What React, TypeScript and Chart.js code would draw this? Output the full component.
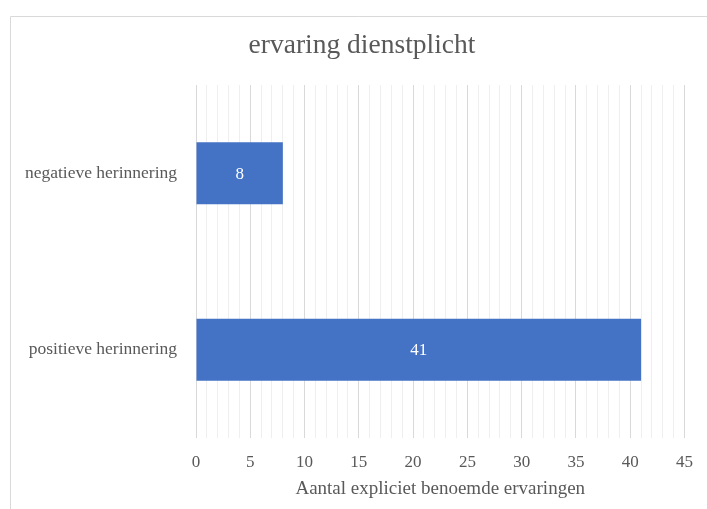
import React, { useEffect, useRef } from "react";
import { Chart, registerables } from "chart.js";

Chart.register(...registerables);

const chartTitle = "ervaring dienstplicht";
const axisTitle = "Aantal expliciet benoemde ervaringen";
const categories = ["negatieve herinnering", "positieve herinnering"];
const values = [8, 41];
const xMin = 0;
const xMax = 45;
const majorStep = 5;
const minorStep = 1;

const FONT = "'Liberation Serif', 'Times New Roman', serif";
const TEXT = "#595959";
const BAR = "#4472C4";

const framePlugin = {
  id: "frame",
  beforeDraw(chart: any) {
    const ctx = chart.ctx;
    ctx.save();
    ctx.fillStyle = "#ffffff";
    ctx.fillRect(0, 0, chart.width, chart.height);
    ctx.strokeStyle = "#d9d9d9";
    ctx.lineWidth = 1;
    ctx.beginPath();
    ctx.moveTo(10.5, chart.height);
    ctx.lineTo(10.5, 16.5);
    ctx.lineTo(chart.width, 16.5);
    ctx.stroke();
    // chart title
    ctx.fillStyle = TEXT;
    ctx.font = `27.5px ${FONT}`;
    ctx.textAlign = "center";
    ctx.textBaseline = "middle";
    ctx.fillText(chartTitle, 362, 46);
    ctx.restore();
  },
};

const barLabelPlugin = {
  id: "barLabels",
  afterDatasetsDraw(chart: any) {
    const ctx = chart.ctx;
    const meta = chart.getDatasetMeta(0);
    const data = chart.data.datasets[0].data;
    ctx.save();
    ctx.fillStyle = "#ffffff";
    ctx.font = `17px ${FONT}`;
    ctx.textAlign = "center";
    ctx.textBaseline = "middle";
    meta.data.forEach((bar: any, i: number) => {
      const { x, y, base } = bar.getProps(["x", "y", "base"], true);
      ctx.fillText(String(data[i]), (x + base) / 2, y + 1);
    });
    ctx.restore();
  },
};

export default function App() {
  const ref = useRef<HTMLCanvasElement | null>(null);
  useEffect(() => {
    if (!ref.current) return;
    const chart = new Chart(ref.current, {
      type: "bar",
      data: {
        labels: categories,
        datasets: [
          {
            data: values,
            backgroundColor: BAR,
            borderWidth: 0,
            categoryPercentage: 1,
            barPercentage: 0.35,
          },
        ],
      },
      options: {
        indexAxis: "y",
        animation: false,
        responsive: false,
        devicePixelRatio: 1,
        layout: { padding: { left: 0, right: 22, top: 85, bottom: 0 } },
        plugins: {
          legend: { display: false },
          tooltip: { enabled: false },
          title: { display: false },
        },
        scales: {
          x: {
            type: "linear",
            min: xMin,
            max: xMax,
            border: { display: false },
            grid: {
              drawTicks: false,
              lineWidth: 1,
              color: (c: any) =>
                c.tick && c.tick.value % majorStep === 0 ? "#d9d9d9" : "#efefef",
            },
            ticks: {
              stepSize: minorStep,
              autoSkip: false,
              maxRotation: 0,
              padding: 14,
              color: TEXT,
              font: { family: FONT, size: 17 },
              callback: (v: any) => (Number(v) % majorStep === 0 ? String(v) : ""),
            },
            title: {
              display: true,
              text: axisTitle,
              color: TEXT,
              font: { family: FONT, size: 19 },
              padding: { top: 6, bottom: 9 },
            },
            afterFit: (scale: any) => {
              scale.height = 71;
            },
          },
          y: {
            border: { display: false },
            grid: { display: false, drawTicks: false },
            ticks: {
              padding: 19,
              color: TEXT,
              font: { family: FONT, size: 17.5 },
            },
            afterFit: (scale: any) => {
              scale.width = 196;
            },
          },
        },
      },
      plugins: [framePlugin, barLabelPlugin],
    });
    return () => chart.destroy();
  }, []);

  return (
    <div style={{ position: "fixed", left: 0, top: 0, width: 707, height: 509 }}>
      <canvas ref={ref} width={707} height={509} style={{ width: 707, height: 509, display: "block" }} />
    </div>
  );
}
